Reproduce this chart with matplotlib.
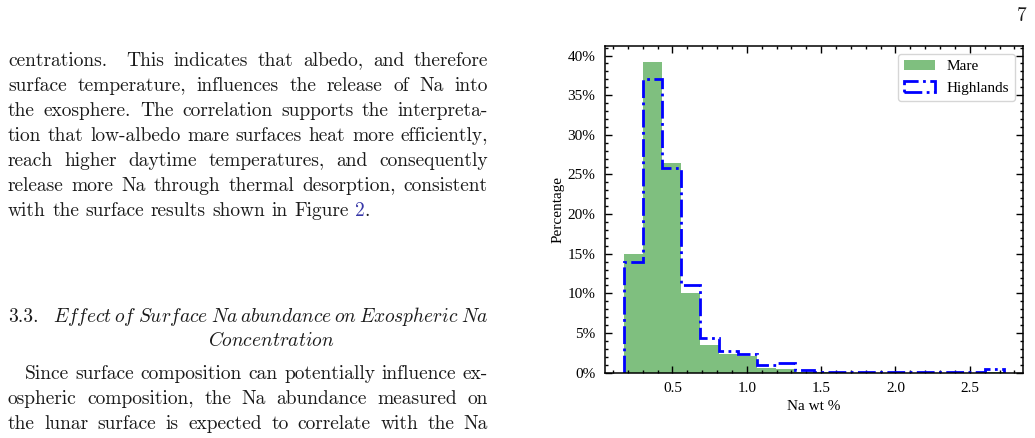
import matplotlib
matplotlib.use("Agg")
import matplotlib.pyplot as plt
import numpy as np
from matplotlib.ticker import MultipleLocator, PercentFormatter

plt.rcParams['mathtext.fontset'] = 'cm'

# histogram data (percent of pixels per bin), 20 bins between min and max Na wt %
na_min, na_max, n_bins = 0.174, 2.73, 20
mare_pct = [15.0, 39.2, 26.4, 10.0, 3.45, 2.35, 2.05, 0.6, 0.5, 0.05,
            0.03, 0.02, 0.02, 0.0, 0.02, 0.0, 0.0, 0.02, 0.0, 0.05]
high_pct = [13.9, 37.1, 25.85, 11.05, 4.4, 2.7, 2.35, 0.95, 1.18, 0.34,
            0.12, 0.08, 0.12, 0.08, 0.1, 0.08, 0.06, 0.1, 0.08, 0.43]

# page text around the figure
para1 = [
    "centrations.  This indicates that albedo, and therefore",
    "surface temperature, influences the release of Na into",
    "the exosphere. The correlation supports the interpreta-",
    "tion that low-albedo mare surfaces heat more efficiently,",
    "reach higher daytime temperatures, and consequently",
    "release more Na through thermal desorption, consistent",
]
para1_last = "with the surface results shown in Figure"
heading1 = "Effect of Surface Na abundance on Exospheric Na"
heading2 = "Concentration"
para2 = [
    "Since surface composition can potentially influence ex-",
    "ospheric composition, the Na abundance measured on",
    "the lunar surface is expected to correlate with the Na",
]

W, H = 1035, 438
fig = plt.figure(figsize=(W / 100, H / 100), dpi=100)
rend = fig.canvas.get_renderer()
body = dict(family='cmr10', fontsize=14, color='#1a1a1a', va='baseline')


def word_text(s, x, y, **kw):
    style = dict(body)
    style.update(kw)
    return fig.text(x / W, 1 - y / H, s, **style)


def width(t):
    if not t.get_text():
        return 0.0
    return t.get_window_extent(renderer=rend).width


def put_words(words, y, x0=8, x1=488, justify=True, space=6.5, **kw):
    # a double space in the line gives an empty word, i.e. a wider gap
    texts = [word_text(w, 0, y, **kw) for w in words]
    ws = [width(t) for t in texts]
    gap = (x1 - x0 - sum(ws)) / (len(ws) - 1) if justify else space
    x = x0
    for t, w in zip(texts, ws):
        t.set_x(x / W)
        x += w + gap
    return x - gap


# first paragraph
y = 66
for line in para1:
    put_words(line.split(' '), y)
    y += 25
xe = put_words(para1_last.split(' '), y, justify=False)
t2 = word_text("2", xe + 6.5, y, color='#3838a8')
word_text(".", xe + 6.5 + width(t2), y)

# section heading
num = word_text("3.3.", 8, 322)
hw = [r'$\mathit{%s}$' % w for w in heading1.split(' ')]
put_words(hw, 322, x0=53, x1=488)
word_text(r'$\mathit{%s}$' % heading2, 271, 346, ha='center')

# second paragraph
put_words(para2[0].split(' '), 379, x0=25)
put_words(para2[1].split(' '), 404)
put_words(para2[2].split(' '), 429)

# page number
word_text("7", 1022, 21, ha='center')

# histogram
edges = np.linspace(na_min, na_max, n_bins + 1)
centers = (edges[:-1] + edges[1:]) / 2

ax = fig.add_axes([605 / W, 1 - 372.7 / H, (1023 - 605) / W, (372.7 - 46) / H])
ax.hist(centers, bins=edges, weights=mare_pct, color='green', alpha=0.5,
        label='Mare')
ax.hist(centers, bins=edges, weights=high_pct, histtype='step', color='blue',
        linestyle='-.', linewidth=2, label='Highlands')

ax.set_xlim(0.046, 2.858)
ax.set_ylim(0, 41.2)
ax.xaxis.set_major_locator(MultipleLocator(0.5))
ax.xaxis.set_minor_locator(MultipleLocator(0.1))
ax.yaxis.set_major_locator(MultipleLocator(5))
ax.yaxis.set_minor_locator(MultipleLocator(1))
ax.yaxis.set_major_formatter(PercentFormatter(xmax=100, decimals=0))

serif = 'Liberation Serif'
fs = 11
ax.tick_params(which='both', direction='in', top=True, right=True,
               width=1, pad=7)
ax.tick_params(which='major', length=5)
ax.tick_params(which='minor', length=2.5)
for lab in ax.get_xticklabels() + ax.get_yticklabels():
    lab.set_family(serif)
    lab.set_fontsize(fs)
for sp in ax.spines.values():
    sp.set_linewidth(1.1)

ax.set_xlabel('Na wt %', family=serif, fontsize=fs, labelpad=3)
ax.set_ylabel('Percentage', family=serif, fontsize=fs, labelpad=2)
ax.legend(loc='upper right', prop={'family': serif, 'size': fs})

fig.savefig('out.png', dpi=100)
